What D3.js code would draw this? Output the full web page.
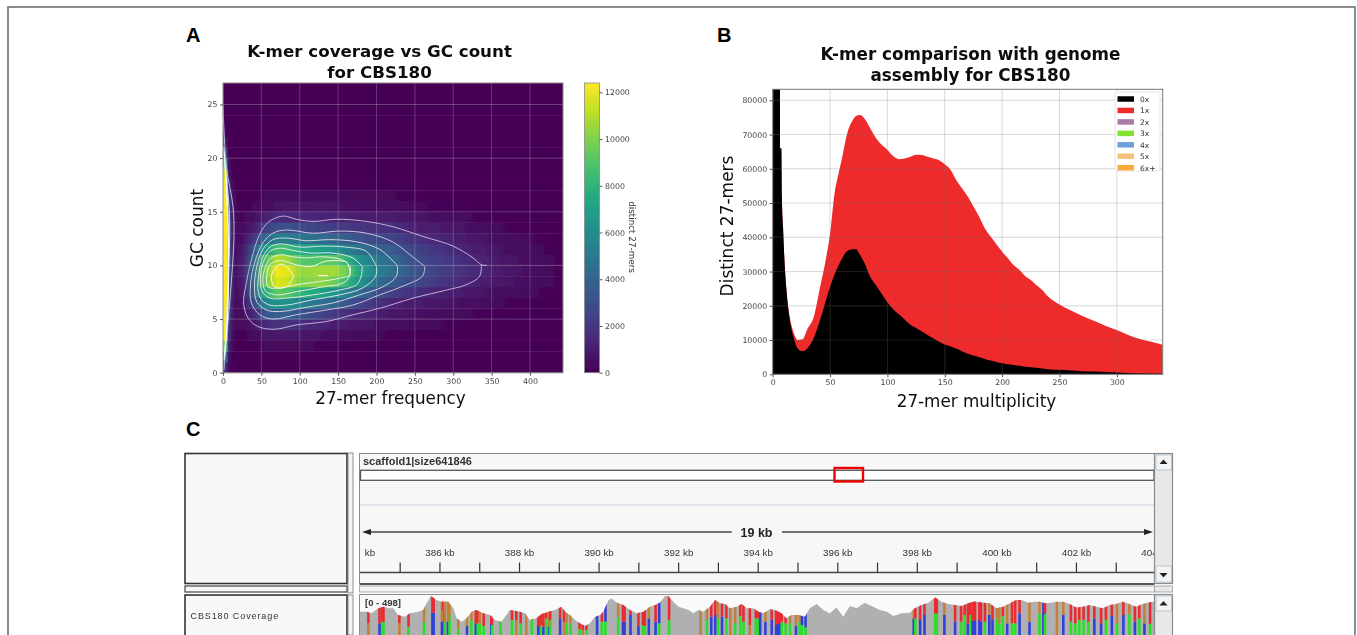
<!DOCTYPE html>
<html>
<head>
<meta charset="utf-8">
<script src="https://cdn.jsdelivr.net/npm/d3@7"></script>
<style>
body { margin: 0; background: #fff; overflow: hidden; }
svg { display: block; }
text { font-family: "DejaVu Sans", sans-serif; }
.mpl .tick text { font-size: 7.8px; fill: #444; }
.mpl .tick line { stroke: #555; }
.mpl .domain { display: none; }
.igv text { font-family: "Liberation Sans", Arial, sans-serif; }
.igv .domain { display: none; }
.igv .tick line { stroke: #333; stroke-width: 1.2; }
.igv .tick text { font-family: "Liberation Sans", Arial, sans-serif; font-size: 9.8px; fill: #333; }
</style>
</head>
<body>
<svg width="1357" height="635"></svg>
<script>

// panel A: 27-mer frequency columns, then one row per GC count (0 to 26)
var freqCols = [0,5,7,11,16,25,40,55,70,85,100,115,130,145,160,175,190,205,220,240,260,280,300,320,340,360,400,443];
var heatValues = [
	[2000,1500,300,50,10,0,0,0,0,0,0,0,0,0,0,0,0,0,0,0,0,0,0,0,0,0,0,0],
	[6000,4000,800,150,30,10,20,30,30,30,30,30,20,20,10,10,0,0,0,0,0,0,0,0,0,0,0,0],
	[10000,9000,1500,400,80,40,100,200,250,250,240,220,180,150,120,100,80,60,50,30,20,10,10,0,0,0,0,0],
	[12400,12200,2200,700,150,100,300,700,800,800,750,650,550,400,350,300,250,200,150,120,90,60,50,30,20,10,0,0],
	[12400,12400,2800,900,220,200,700,1500,1800,1800,1600,1400,1200,1000,850,700,600,500,400,300,250,200,150,120,80,50,30,10],
	[12400,12400,3400,1100,300,400,1500,3200,3800,3700,3200,2800,2400,2000,1700,1400,1200,1000,800,600,500,400,300,220,170,100,60,20],
	[12400,12400,3800,1300,350,600,2800,5600,6400,6200,5600,5000,4500,4000,3300,2700,2200,1700,1300,1000,850,700,600,450,320,220,120,40],
	[12400,12400,4200,1500,400,800,4000,7800,9300,9100,8200,7600,7000,6500,5500,4500,3600,2900,2400,1900,1500,1200,1000,800,600,420,250,80],
	[12400,12400,4500,1600,450,1000,4500,9500,11800,11400,10000,10200,10300,9500,8400,6700,5300,4300,3600,3000,2500,2000,1600,1300,1000,700,400,130],
	[12400,12400,4600,1700,500,1100,4600,9800,12200,11900,10500,10500,10700,10700,9700,7600,6400,5200,4600,3600,2900,2400,2000,1600,1300,900,450,130],
	[12400,12400,4600,1700,500,1000,4200,8800,11000,10500,9200,9000,9200,9300,8200,6500,5400,4800,4400,3300,2600,2200,1900,1500,1200,800,400,120],
	[12400,12400,4500,1600,450,800,3400,6800,8700,8500,7600,7200,6900,6300,5500,4700,4200,3900,3500,2800,2200,1800,1500,1150,900,600,300,90],
	[12400,12400,4300,1500,400,500,2000,4300,5200,5200,4900,4600,4300,4000,3600,3200,2900,2700,2500,2000,1600,1300,1100,800,600,400,200,60],
	[12400,12400,4000,1400,380,300,1000,2400,3000,3100,2800,2600,2400,2200,2100,1900,1800,1700,1700,1300,1000,850,700,500,350,200,100,30],
	[12400,12400,3600,1200,320,150,500,1100,1500,1500,1400,1300,1250,1200,1100,1050,1000,950,900,700,600,450,350,220,150,100,50,10],
	[12400,12400,3000,1000,260,80,200,400,600,650,650,650,600,600,550,500,450,420,400,300,220,180,150,100,70,40,20,0],
	[12400,12400,2400,800,200,40,100,200,300,300,300,300,300,300,260,240,220,210,200,150,110,80,60,40,30,20,10,0],
	[12400,12200,1700,500,120,20,50,100,120,130,130,130,120,120,110,100,90,80,70,50,40,30,20,10,10,0,0,0],
	[12200,11000,1000,250,60,10,20,30,40,40,40,40,40,40,30,30,20,20,20,10,10,0,0,0,0,0,0,0],
	[10000,7000,500,120,30,0,0,0,0,0,0,0,0,0,0,0,0,0,0,0,0,0,0,0,0,0,0,0],
	[3500,2000,200,40,0,0,0,0,0,0,0,0,0,0,0,0,0,0,0,0,0,0,0,0,0,0,0,0],
	[1000,600,60,0,0,0,0,0,0,0,0,0,0,0,0,0,0,0,0,0,0,0,0,0,0,0,0,0],
	[300,150,0,0,0,0,0,0,0,0,0,0,0,0,0,0,0,0,0,0,0,0,0,0,0,0,0,0],
	[150,70,0,0,0,0,0,0,0,0,0,0,0,0,0,0,0,0,0,0,0,0,0,0,0,0,0,0],
	[100,50,0,0,0,0,0,0,0,0,0,0,0,0,0,0,0,0,0,0,0,0,0,0,0,0,0,0],
	[50,0,0,0,0,0,0,0,0,0,0,0,0,0,0,0,0,0,0,0,0,0,0,0,0,0,0,0],
	[0,0,0,0,0,0,0,0,0,0,0,0,0,0,0,0,0,0,0,0,0,0,0,0,0,0,0,0]
];

// contour lines as [frequency, GC count]
var contourOuter = [[344,10],[336.6,10.06],[325.7,10.7],[299.7,11.8],[260.6,12.7],[221.5,13.6],[186.8,14.1],[147.7,14.3],[117.3,14.1],[95.5,14.3],[80.3,14.6],[71.7,14.5],[58.6,14],[47.8,12.9],[36.9,10.5],[30.4,8.35],[26.9,6.5],[32.6,5.1],[45.6,4.3],[67.3,4.05],[95.5,4.45],[134.6,4.77],[169.4,5.4],[204.1,6],[247.6,6.95],[291,7.7],[317,8.2],[334.4,9],[336.6,10.06]];
var contour2 = [[263,9.9],[247,10.8],[221,12.2],[187,13],[152,13.2],[117,13],[82.5,13.3],[65,13],[52,12.1],[41,10.2],[36,8.35],[37,6.5],[48,5.4],[65,5],[95.5,5.4],[135,5.85],[169,6.3],[204,7.25],[239,8.2],[260,9],[263,9.9]];
var contour3 = [[227,10],[204,11.5],[174,12.2],[139,12.4],[108.6,12.3],[82.5,12.55],[65,12.4],[52,11.5],[44,9.9],[41,8],[44,6.6],[56.5,5.85],[74,5.7],[108.6,6.1],[143,6.5],[178,7.25],[208,8],[226,9],[227,10]];
var contour4 = [[200,9.9],[187,11.3],[161,11.7],[130,11.8],[100,11.7],[78,12],[63,11.8],[52,10.8],[47,9.3],[45.6,7.7],[50,6.8],[61,6.3],[82.5,6.3],[117,6.8],[152,7.25],[182,7.9],[199,9],[200,9.9]];
var contour5 = [[181.5,9.9],[169,10.7],[143,11.15],[113,11.15],[91,11.4],[74,11.6],[61,11.3],[52,10.2],[48.6,8.65],[51,7.6],[61,6.95],[82.5,6.95],[117,7.25],[152,7.7],[174,8.2],[180,9],[181.5,9.9]];
var contour6 = [[166,9.9],[156,10.5],[130,10.8],[108.6,10.7],[91,10.8],[74,11],[61,10.6],[54,9.6],[52,8.35],[55.6,7.6],[69.5,7.25],[95.5,7.55],[130,8],[156,8.35],[165,9],[166,9.9]];
var contour7 = [[163,10.06],[161,10.3],[134.6,10.4],[115,9.9],[95.5,10.06],[74,10.45],[61,10.06],[57,9],[58.6,8],[74,7.9],[95.5,8.2],[126,8.5],[152,8.8],[165,9.1],[163,10.06]];
var contourPeak = [[92,9],[82.5,9.9],[74,10.1],[67,9.6],[63,9],[67,8],[82.5,8],[92,9]];
var contourSmall = [[124,9.05],[137,9.05]];
var contourEdge1 = [[0,24.9],[4.3,19.25],[13,15.5],[14.3,12.7],[8.7,6.5],[4.3,3.05],[1.3,0.25]];
var contourEdge2 = [[2.2,19.6],[7.8,15.5],[8.7,13],[5.6,6.5],[2.2,1.8]];
var contourEdge3 = [[1.3,20.6],[5.5,15.5],[6.5,11.8],[5.5,5.5],[1.5,1.2]];
var contourEdge4 = [[1,21],[5.8,16],[7.2,12],[6.2,5.5],[1.8,1.4]];
var contourList = [contourOuter, contour2, contour3, contour4, contour5, contour6, contour7, contourPeak, contourSmall, contourEdge1, contourEdge2, contourEdge3, contourEdge4];
var contourColors = ["#c5afd6", "#c9c3de", "#cfd6e2", "#d6e2e4", "#dbe9e2", "#e2efe0", "#eef5dc", "#fbfbe8", "#ffffff", "#b9c0e0", "#d4e6ee", "#f5fbfb", "#f0fafa"];

// panel B: multiplicity histogram outlines
var multAll = [0,1,6,6.5,7.5,8,9,10,12,15,18,22,26,30,36,41,46,50,54,57,60,65,70,73,76,80,85,90,95,100,105,110,115,120,125,130,135,140,145,150,155,160,165,170,175,180,185,190,195,200,205,210,215,220,225,230,235,240,245,250,260,270,280,290,300,310,320,330,340];
var countAll = [35000,120000,120000,66000,66000,52000,43000,35000,24600,16500,12500,10000,10200,13000,17000,25000,33000,41000,53000,58000,62500,70400,74300,75500,75700,74700,71800,69000,67000,65500,63700,62800,63000,63500,64100,64000,63500,63000,62500,61300,59700,56700,54300,51900,49000,46000,42600,40200,38000,35800,33900,31900,30500,28700,27500,26000,24600,22700,21400,20400,18600,17000,15600,14200,12900,11500,10300,9500,8600];
var mult0x = [0,1,6,6.5,7.5,8,9,10,12,15,18,21,25,27,30,35,40,45,50,55,60,65,70,73,75,80,85,90,95,100,105,110,115,120,125,130,135,140,145,150,155,160,165,170,175,180,185,190,195,200,210,220,230,240,250,260,270,280,290,300,310,320,330,340];
var count0x = [35000,120000,120000,66000,66000,52000,43000,35000,24600,15800,11000,8000,6800,6800,7500,10000,14500,20000,25500,30000,33500,36000,36500,36500,35500,32500,28500,26000,23500,21000,19000,17500,16000,14500,13500,12500,11500,10500,9500,8700,8200,7500,6700,6000,5500,5000,4500,4000,3600,3200,2700,2200,1900,1500,1300,1100,900,800,650,500,400,300,200,150];
var legendNames = ["0x", "1x", "2x", "3x", "4x", "5x", "6x+"];
var legendColors = ["#000000", "#ee2a2a", "#a87bab", "#84e332", "#6f9fd8", "#f5c27d", "#fbab3c"];

// panel C: coverage outline, position in kb and read count
var covKb = [384,384.18,384.29,384.46,384.59,384.71,384.84,384.96,385.13,385.26,385.47,385.59,385.68,385.78,385.93,386.05,386.22,386.35,386.43,386.56,386.68,386.81,386.93,387.1,387.27,387.39,387.56,387.77,387.9,388.02,388.15,388.27,388.44,388.57,388.74,388.9,389.07,389.16,389.28,389.41,389.53,389.66,389.78,389.91,390.04,390.12,390.25,390.33,390.46,390.62,390.79,390.96,391.13,391.29,391.42,391.54,391.67,391.75,391.88,392.01,392.13,392.26,392.38,392.51,392.63,392.8,392.93,393.05,393.18,393.3,393.47,393.6,393.72,393.89,394.02,394.14,394.31,394.43,394.6,394.72,394.85,395.02,395.19,395.31,395.48,395.65,395.81,395.98,396.15,396.32,396.49,396.69,396.86,397.07,397.24,397.41,397.62,397.83,397.95,398.12,398.29,398.46,398.62,398.79,398.96,399.13,399.29,399.42,399.5,399.67,399.83,400,400.17,400.34,400.5,400.63,400.8,400.96,401.09,401.22,401.38,401.51,401.68,401.84,402.01,402.18,402.35,402.51,402.68,402.85,403.01,403.18,403.34,403.51,403.68,403.8,403.93,404];
var covReads = [353,353,338,384,400,384,384,323,307,338,353,369,430,498,461,446,446,384,292,261,292,353,369,338,323,277,261,369,363,353,338,277,292,332,353,369,400,353,323,277,246,221,246,307,323,353,461,476,436,415,369,338,353,400,415,436,498,498,446,400,384,369,338,369,353,400,461,430,424,384,400,424,384,384,353,338,375,369,338,292,323,323,307,384,424,369,338,393,307,406,384,436,406,369,353,313,338,344,384,415,436,485,446,424,415,406,430,446,446,436,430,384,400,430,461,461,436,446,446,430,436,446,446,424,393,400,415,400,384,415,424,446,424,400,424,436,446,446];

// mismatch columns: position, read count where the colour changes, lower and upper base
var misKb = [384.18,384.46,384.53,384.56,384.96,385.19,385.58,385.79,385.82,386.03,386.06,386.1,386.18,386.22,386.44,386.66,386.77,386.88,386.93,386.98,387.08,387.27,387.29,387.5,387.79,387.9,388.01,388.15,388.29,388.45,388.48,388.52,388.58,388.65,388.72,388.75,389,
	389.1,389.16,389.26,389.49,389.57,389.66,389.93,390.05,390.14,390.46,390.58,390.62,390.77,390.97,391.08,391.13,391.23,391.4,391.49,391.74,392.53,392.69,392.8,392.9,392.97,393.07,393.18,393.28,393.4,393.53,393.61,393.77,393.92,393.98,394.03,394.16,
	394.32,394.43,394.47,394.52,394.57,394.67,394.78,394.93,395.02,395.08,395.17,397.89,397.93,398.05,398.16,398.43,398.47,398.66,398.93,399.08,399.17,399.25,399.31,399.42,
	399.37,399.43,399.54,399.58,399.68,399.79,399.87,399.98,400.04,400.13,400.24,400.36,400.44,400.55,400.8,401.05,401.15,401.19,401.49,401.65,401.84,401.95,402.05,402.16,402.28,402.43,402.6,402.72,402.87,403,403.16,403.31,403.45,403.56,403.69,403.83];
var misSplit = [246,246,261,261,246,215,261,344,344,261,369,261,261,323,191,221,277,246,246,246,221,246,231,261,277,277,246,292,277,231,215,231,215,292,215,277,292,
	261,246,246,191,185,185,307,261,261,307,261,261,323,221,231,221,292,261,246,277,277,277,307,323,292,307,292,246,246,313,261,231,292,292,353,261,
	277,231,246,246,261,246,246,221,261,231,209,292,292,277,323,338,338,323,261,261,323,246,323,277,
	271,271,277,261,261,323,283,292,246,313,246,246,246,338,261,338,323,338,307,323,261,246,277,277,261,292,246,277,313,246,323,329,261,292,246,240];
var misLow = ("obggogg" + "bbbbgbgg" + "bgbgggbggg" + "ogogbbgbgbgb" +
	"ogggogbggg" + "bbbbggbbgg" + "ogbbgbgogg" + "goggbb" +
	"bbbbgggbggg" + "bgbbggbbggbgb" +
	"bbbbgbbggg" + "bggbbgbgob" + "gggggbbgbg" + "bgbgbg").split("");
var misHigh = ("rrrrrro" + "rroroooo" + "oorrorrror" + "rrorrrrrrorr" +
	"roorrrbrbo" + "rrrrrrorbr" + "oorrorroor" + "rrrrro" +
	"rrrrrrooobb" + "orrrrrorrrrrr" +
	"rrrrroroor" + "orrroobroo" + "rrrrrrrrro" + "rorror").split("");
var baseColors = {r: "#ea2c30", o: "#c4803a", g: "#2ade2a", b: "#3040d8"};

var kbTicks = d3.range(384, 405);

var svg = d3.select("svg");
var defs = svg.append("defs");

// the source figure is a soft raster, so everything gets a slight blur
defs.append("filter").attr("id", "soft")
	.attr("filterUnits", "userSpaceOnUse")
	.attr("x", 0).attr("y", 0).attr("width", 1357).attr("height", 700)
	.append("feGaussianBlur").attr("stdDeviation", 0.45);

// outer frame of the figure
svg.append("rect")
	.attr("x", 8).attr("y", 7)
	.attr("width", 1347).attr("height", 700)
	.attr("fill", "none")
	.attr("stroke", "#707070")
	.attr("stroke-width", 1.6);

function panelLetter(txt, x, y) {
	svg.append("text").attr("x", x).attr("y", y)
		.attr("font-size", 20).attr("font-weight", "bold")
		.style("font-family", "'Liberation Sans', Arial, sans-serif")
		.text(txt);
}
panelLetter("A", 186, 42);
panelLetter("B", 717, 42);
panelLetter("C", 186, 436);

function label(g, txt, x, y, size, bold, rot) {
	var t = g.append("text")
		.attr("text-anchor", "middle")
		.attr("font-size", size)
		.attr("font-weight", bold ? "bold" : "normal")
		.attr("fill", "#111")
		.text(txt);
	if (rot) t.attr("transform", "translate(" + x + "," + y + ") rotate(" + rot + ")");
	else t.attr("x", x).attr("y", y);
	return t;
}

/* ---------- panel A ---------- */
var gA = svg.append("g").attr("class", "mpl").attr("filter", "url(#soft)");
var xA = d3.scaleLinear().domain([0, 443]).range([223, 563]);
var yA = d3.scaleLinear().domain([0, 27]).range([372.7, 83]);
var colorA = d3.scaleSequential(d3.interpolateViridis).domain([0, 12400]);

heatValues.forEach(function(row, gc) {
	var grad = defs.append("linearGradient").attr("id", "row" + gc);
	row.forEach(function(v, i) {
		grad.append("stop")
			.attr("offset", (xA(freqCols[i]) - xA(0)) / (xA(443) - xA(0)))
			.attr("stop-color", colorA(v));
	});
});

gA.selectAll("rect.row").data(heatValues).enter().append("rect")
	.attr("class", "row")
	.attr("x", xA(0))
	.attr("width", xA(443) - xA(0))
	.attr("y", function(d, i) { return yA(i + 1); })
	.attr("height", function(d, i) { return yA(i) - yA(i + 1) + 0.4; })
	.attr("fill", function(d, i) { return "url(#row" + i + ")"; });

var ticksXA = [0, 50, 100, 150, 200, 250, 300, 350, 400];
var ticksYA = [0, 5, 10, 15, 20, 25];
var gridA = gA.append("g").attr("stroke", "rgba(255,255,255,0.2)").attr("stroke-width", 1);
gridA.selectAll("line.v").data(ticksXA).enter().append("line")
	.attr("x1", xA).attr("x2", xA).attr("y1", yA(0)).attr("y2", yA(27));
gridA.selectAll("line.h").data(ticksYA).enter().append("line")
	.attr("x1", xA(0)).attr("x2", xA(443)).attr("y1", yA).attr("y2", yA);

var lineA = d3.line()
	.curve(d3.curveCatmullRom)
	.x(function(d) { return xA(d[0]); })
	.y(function(d) { return yA(d[1]); });

gA.selectAll("path.contour").data(contourList).enter().append("path")
	.attr("class", "contour")
	.attr("d", lineA)
	.attr("fill", "none")
	.attr("stroke", function(d, i) { return contourColors[i]; })
	.attr("stroke-width", 1);

gA.append("rect")
	.attr("x", xA(0)).attr("y", yA(27))
	.attr("width", xA(443) - xA(0)).attr("height", yA(0) - yA(27))
	.attr("fill", "none").attr("stroke", "#8a8a8a");

gA.append("g").attr("transform", "translate(0," + yA(0) + ")")
	.call(d3.axisBottom(xA).tickValues(ticksXA).tickSize(3).tickPadding(2.5));
gA.append("g").attr("transform", "translate(" + xA(0) + ",0)")
	.call(d3.axisLeft(yA).tickValues(ticksYA).tickSize(3).tickPadding(2.5));

label(gA, "K-mer coverage vs GC count", 379.5, 57, 16.7, true);
label(gA, "for CBS180", 379.5, 78, 16.7, true);
label(gA, "27-mer frequency", 390.5, 404, 16.8);
label(gA, "GC count", 203, 228, 17, false, -90);

// colour bar
var yBar = d3.scaleLinear().domain([0, 12400]).range([372.7, 83]);
var barGrad = defs.append("linearGradient").attr("id", "barGrad")
	.attr("x1", 0).attr("x2", 0).attr("y1", 1).attr("y2", 0);
d3.range(0, 1.01, 0.1).forEach(function(t) {
	barGrad.append("stop").attr("offset", t).attr("stop-color", d3.interpolateViridis(t));
});
gA.append("rect")
	.attr("x", 584.5).attr("y", yBar(12400))
	.attr("width", 15).attr("height", yBar(0) - yBar(12400))
	.attr("fill", "url(#barGrad)").attr("stroke", "#8a8a8a").attr("stroke-width", 0.8);
gA.append("g").attr("transform", "translate(599.5,0)")
	.call(d3.axisRight(yBar).tickValues([0, 2000, 4000, 6000, 8000, 10000, 12000]).tickFormat(d3.format("d")).tickSize(3).tickPadding(2.5));
label(gA, "distinct 27-mers", 629, 237, 8.8, false, 90).attr("fill", "#333");

/* ---------- panel B ---------- */
var gB = svg.append("g").attr("class", "mpl").attr("filter", "url(#soft)");
var xB = d3.scaleLinear().domain([0, 340]).range([772.7, 1162.7]);
var yB = d3.scaleLinear().domain([0, 83200]).range([374.3, 89.3]);

gB.append("clipPath").attr("id", "clipB").append("rect")
	.attr("x", xB(0)).attr("y", yB(83200))
	.attr("width", xB(340) - xB(0)).attr("height", yB(0) - yB(83200));

function areaB(mult, counts, color) {
	var area = d3.area()
		.curve(d3.curveMonotoneX)
		.x(function(d, i) { return xB(mult[i]); })
		.y0(yB(0))
		.y1(function(d) { return yB(d); });
	gB.append("path").datum(counts)
		.attr("clip-path", "url(#clipB)")
		.attr("fill", color)
		.attr("d", area);
}
areaB(multAll, countAll, legendColors[1]);
areaB(mult0x, count0x, legendColors[0]);

var ticksXB = [0, 50, 100, 150, 200, 250, 300];
var ticksYB = [0, 10000, 20000, 30000, 40000, 50000, 60000, 70000, 80000];
var gridB = gB.append("g").attr("stroke", "rgba(120,120,120,0.28)").attr("stroke-width", 1);
gridB.selectAll("line.v").data(ticksXB).enter().append("line")
	.attr("x1", xB).attr("x2", xB).attr("y1", yB(0)).attr("y2", yB(83200));
gridB.selectAll("line.h").data(ticksYB).enter().append("line")
	.attr("x1", xB(0)).attr("x2", xB(340)).attr("y1", yB).attr("y2", yB);

gB.append("rect")
	.attr("x", xB(0)).attr("y", yB(83200))
	.attr("width", xB(340) - xB(0)).attr("height", yB(0) - yB(83200))
	.attr("fill", "none").attr("stroke", "#777");

gB.append("g").attr("transform", "translate(0," + yB(0) + ")")
	.call(d3.axisBottom(xB).tickValues(ticksXB).tickSize(3).tickPadding(2.5));
gB.append("g").attr("transform", "translate(" + xB(0) + ",0)")
	.call(d3.axisLeft(yB).tickValues(ticksYB).tickFormat(d3.format("d")).tickSize(3).tickPadding(2.5));

label(gB, "K-mer comparison with genome", 970.5, 60, 16.8, true);
label(gB, "assembly for CBS180", 970.5, 81, 16.8, true);
label(gB, "27-mer multiplicity", 976.5, 407, 16.8);
label(gB, "Distinct 27-mers", 733, 226, 17, false, -90);

var legend = gB.append("g");
legend.append("rect")
	.attr("x", 1115).attr("y", 92).attr("width", 45).attr("height", 79)
	.attr("rx", 1.5)
	.attr("fill", "rgba(255,255,255,0.9)").attr("stroke", "#ddd").attr("stroke-width", 0.8);
var yLegend = d3.scalePoint().domain(legendNames).range([99, 167.7]);
legend.selectAll("rect.sw").data(legendNames).enter().append("rect")
	.attr("class", "sw")
	.attr("x", 1117.5).attr("width", 16.5).attr("height", 5.5)
	.attr("y", function(d) { return yLegend(d) - 2.75; })
	.attr("fill", function(d, i) { return legendColors[i]; });
legend.selectAll("text").data(legendNames).enter().append("text")
	.attr("x", 1140)
	.attr("y", function(d) { return yLegend(d) + 3; })
	.attr("font-size", 7.5).attr("fill", "#333")
	.text(function(d) { return d; });

/* ---------- panel C ---------- */
var gC = svg.append("g").attr("class", "igv").attr("filter", "url(#soft)");

function box(x, y, w, h, fill, stroke, sw) {
	return gC.append("rect").attr("x", x).attr("y", y).attr("width", w).attr("height", h)
		.attr("fill", fill).attr("stroke", stroke || "none").attr("stroke-width", sw || 1);
}
function triangle(cx, cy, up) {
	var d = up ? -1 : 1;
	gC.append("path")
		.attr("d", d3.line()([[cx - 4, cy - 2 * d], [cx + 4, cy - 2 * d], [cx, cy + 2.5 * d]]) + "Z")
		.attr("fill", "#222");
}

var xKb = d3.scaleLinear().domain([384, 404]).range([359.9, 1155.5]);
var yCov = d3.scaleLinear().domain([0, 498]).range([650, 596]);

gC.append("clipPath").attr("id", "clipTrack").append("rect")
	.attr("x", 363).attr("y", 453).attr("width", 791).attr("height", 131);
gC.append("clipPath").attr("id", "clipCov").append("rect")
	.attr("x", 360).attr("y", 595).attr("width", 794).attr("height", 60);

// left name boxes
box(185, 453.5, 162, 130, "#f8f8f8", "#333", 1.6);
box(185, 586, 162, 6, "#f8f8f8", "#444", 1.2);
box(185, 595, 162, 60, "#f8f8f8", "#333", 1.6);
gC.append("text").attr("x", 190.5).attr("y", 619)
	.attr("font-size", 9).attr("letter-spacing", 0.9).attr("fill", "#333")
	.text("CBS180 Coverage");

// vertical separators
box(348, 453, 5, 140, "#f4f4f4", "#777", 0.8);
box(348, 595, 5, 40, "#f4f4f4", "#777", 0.8);

// ruler track
box(359.5, 453.5, 795, 130, "#f7f7f7", "#8a8a8a", 1);
box(360.5, 470.3, 793.5, 10, "#ffffff", "#555", 1.3);
gC.append("text").attr("x", 363).attr("y", 465)
	.attr("font-size", 11).attr("font-weight", "bold").attr("fill", "#333")
	.text("scaffold1|size641846");
box(834.5, 468, 28.5, 13.5, "none", "#f00000", 2.4);
gC.append("line").attr("x1", 360).attr("x2", 1154).attr("y1", 505).attr("y2", 505)
	.attr("stroke", "#ccd0e0");

// 19 kb span arrow
gC.append("line").attr("x1", 365).attr("x2", 731.7).attr("y1", 532).attr("y2", 532)
	.attr("stroke", "#444").attr("stroke-width", 1.3);
gC.append("line").attr("x1", 782).attr("x2", 1150).attr("y1", 532).attr("y2", 532)
	.attr("stroke", "#444").attr("stroke-width", 1.3);
gC.append("path").attr("d", "M362,532L371,529L371,535Z").attr("fill", "#222");
gC.append("path").attr("d", "M1153,532L1144,529L1144,535Z").attr("fill", "#222");
gC.append("text").attr("x", 756.5).attr("y", 536.5).attr("text-anchor", "middle")
	.attr("font-size", 12.5).attr("font-weight", "bold").attr("fill", "#222")
	.text("19 kb");

// kb ruler
gC.append("g")
	.attr("clip-path", "url(#clipTrack)")
	.append("g")
	.attr("transform", "translate(0,572.5)")
	.call(d3.axisTop(xKb).tickValues(kbTicks).tickSize(10).tickPadding(7)
		.tickFormat(function(d) { return d % 2 ? "" : d + " kb"; }));
gC.append("line").attr("x1", 360).attr("x2", 1154).attr("y1", 572.5).attr("y2", 572.5)
	.attr("stroke", "#444").attr("stroke-width", 1.3);
box(359.5, 583, 795, 2, "#555");
box(359.5, 586, 795, 6, "#f4f4f4", "#999", 0.8);

// coverage track
box(359.5, 594.5, 795, 60, "#fafafa", "#8a8a8a", 1);
gC.append("clipPath").attr("id", "clipArea").append("path").datum(covReads)
	.attr("d", d3.area()
		.x(function(d, i) { return xKb(covKb[i]); })
		.y0(yCov(0))
		.y1(function(d) { return yCov(d); }));
var cov = gC.append("g").attr("clip-path", "url(#clipCov)");
cov.append("path").datum(covReads)
	.attr("fill", "#b0b0b0")
	.attr("d", d3.area()
		.x(function(d, i) { return xKb(covKb[i]); })
		.y0(yCov(0))
		.y1(function(d) { return yCov(d); }));
var mis = cov.append("g").attr("clip-path", "url(#clipArea)");
mis.selectAll("rect.low").data(misKb).enter().append("rect")
	.attr("class", "low")
	.attr("x", function(d) { return xKb(d); })
	.attr("width", 2.6)
	.attr("y", function(d, i) { return yCov(misSplit[i]); })
	.attr("height", function(d, i) { return yCov(0) - yCov(misSplit[i]); })
	.attr("fill", function(d, i) { return baseColors[misLow[i]]; });
mis.selectAll("rect.high").data(misKb).enter().append("rect")
	.attr("class", "high")
	.attr("x", function(d) { return xKb(d); })
	.attr("width", 2.6)
	.attr("y", yCov(498))
	.attr("height", function(d, i) { return yCov(misSplit[i]) - yCov(498); })
	.attr("fill", function(d, i) { return baseColors[misHigh[i]]; });
gC.append("text").attr("x", 365).attr("y", 605.5)
	.attr("font-size", 9.5).attr("font-weight", "bold").attr("fill", "#333")
	.text("[0 - 498]");

// scrollbars
box(1154.5, 453.5, 18, 130, "#e8e8e8", "#8a8a8a", 1.2);
box(1156, 455, 15.5, 15, "#f4f4f4", "#a9bcd0", 0.8);
box(1156, 566, 15.5, 16, "#f4f4f4", "#a9bcd0", 0.8);
triangle(1163.5, 462, true);
triangle(1163.5, 575, false);
box(1154.5, 586, 18, 6, "#e8e8e8", "#999", 0.8);
box(1154.5, 594.5, 18, 60, "#e8e8e8", "#8a8a8a", 1.2);
box(1156, 596, 15.5, 15, "#f4f4f4", "#a9bcd0", 0.8);
triangle(1163.5, 603.5, true);

</script>
</body>
</html>
